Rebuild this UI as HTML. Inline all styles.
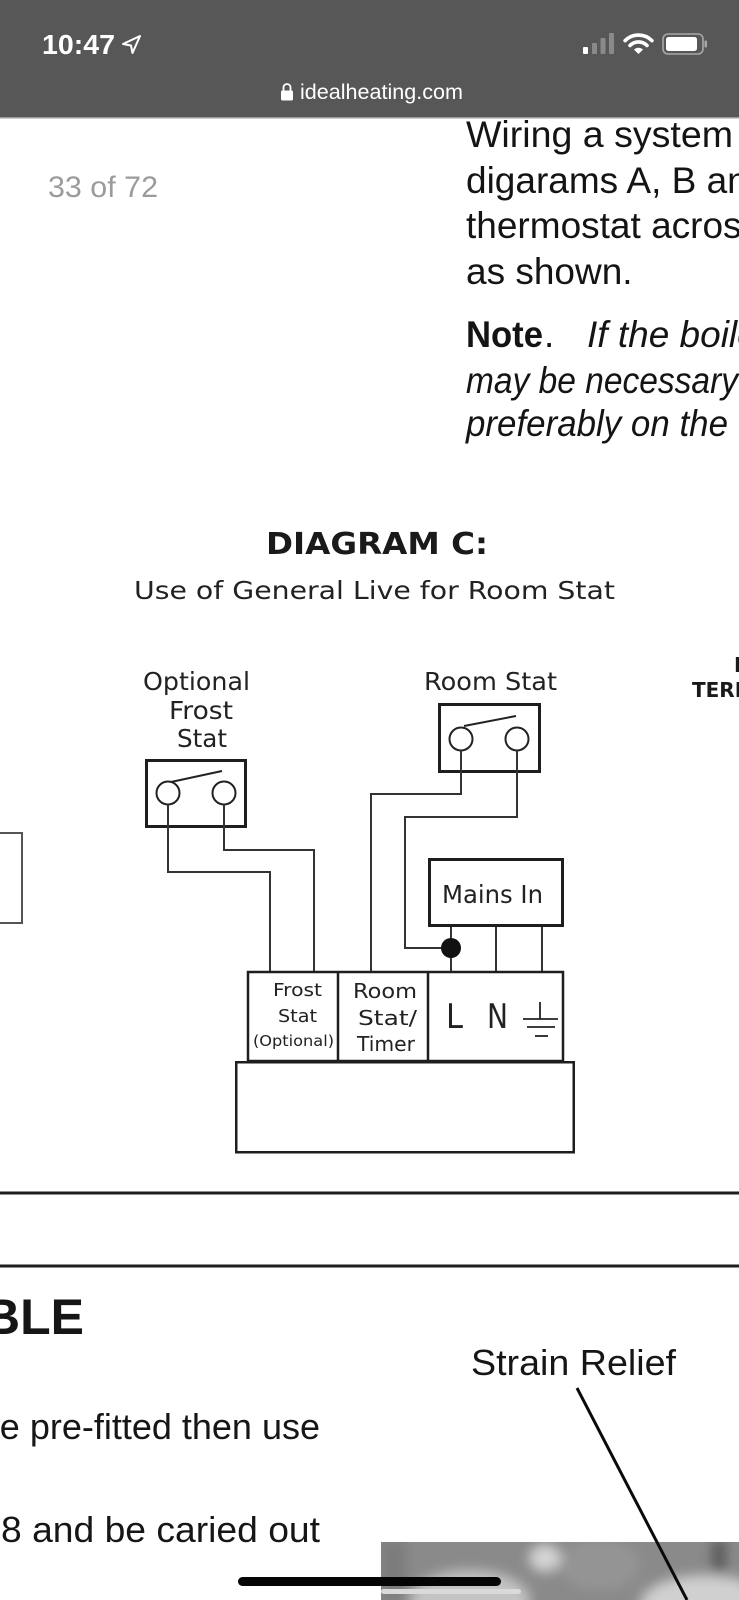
<!DOCTYPE html>
<html>
<head>
<meta charset="utf-8">
<style>
  html, body { margin:0; padding:0; background:#fff; }
  body { width:739px; height:1600px; overflow:hidden; position:relative; }
  svg { position:absolute; left:0; top:0; display:block; }
</style>
</head>
<body>
<svg width="739" height="1600" viewBox="0 0 739 1600" xmlns="http://www.w3.org/2000/svg">
  <defs>
    <clipPath id="photoClip"><rect x="381" y="1542" width="358" height="58"/></clipPath>
    <filter id="blur" x="-20%" y="-20%" width="140%" height="140%"><feGaussianBlur stdDeviation="6"/></filter>
  </defs>

  <!-- Status bar -->
  <rect x="0" y="0" width="739" height="118" fill="#575757"/>
  <rect x="0" y="117" width="739" height="1.5" fill="#9a9a9a"/>
  <text x="42" y="54" font-family="Liberation Sans, sans-serif" font-size="28" font-weight="bold" fill="#fff" textLength="73" lengthAdjust="spacingAndGlyphs">10:47</text>
  <path d="M140 36 L123 44 L131 45.5 L132.5 53 Z" fill="none" stroke="#fff" stroke-width="2" stroke-linejoin="round"/>
  <!-- signal -->
  <rect x="583" y="47" width="5" height="7" rx="1" fill="#fff"/>
  <rect x="592" y="43" width="5" height="11" rx="1" fill="#8a8a8a"/>
  <rect x="600.5" y="38" width="5" height="16" rx="1" fill="#8a8a8a"/>
  <rect x="609" y="33" width="5" height="21" rx="1" fill="#8a8a8a"/>
  <!-- wifi -->
  <path d="M625.1 40.6 A19 19 0 0 1 651.9 40.6" fill="none" stroke="#fff" stroke-width="3.6" stroke-linecap="round"/>
  <path d="M630 45.5 A12 12 0 0 1 647 45.5" fill="none" stroke="#fff" stroke-width="3.6" stroke-linecap="round"/>
  <path d="M638.5 54 L634 49.6 A6.3 6.3 0 0 1 643 49.6 Z" fill="#fff"/>
  <!-- battery -->
  <rect x="663" y="34" width="40" height="20" rx="5" fill="none" stroke="#a8a8a8" stroke-width="1.6"/>
  <rect x="666" y="37" width="31" height="14" rx="2.5" fill="#fff"/>
  <rect x="704.5" y="40.5" width="2.5" height="7" rx="1" fill="#a8a8a8"/>
  <!-- url -->
  <path d="M283.5 91 V87.5 A3.5 3.5 0 0 1 290.5 87.5 V91" fill="none" stroke="#fff" stroke-width="1.8"/>
  <rect x="281" y="90.5" width="12" height="10" rx="1.5" fill="#fff"/>
  <text x="300" y="99" font-family="Liberation Sans, sans-serif" font-size="21" fill="#fff" textLength="163" lengthAdjust="spacingAndGlyphs">idealheating.com</text>

  <!-- page counter -->
  <text x="48" y="197" font-family="Liberation Sans, sans-serif" font-size="30" fill="#9b9b9b" textLength="110" lengthAdjust="spacingAndGlyphs">33 of 72</text>

  <!-- right column text -->
  <g font-family="Liberation Sans, sans-serif" font-size="37" fill="#141414">
    <text x="466" y="147" textLength="267" lengthAdjust="spacingAndGlyphs">Wiring a system</text>
    <text x="466" y="193">digarams A, B and C</text>
    <text x="466" y="238">thermostat across the</text>
    <text x="466" y="284">as shown.</text>
    <text x="466" y="347" font-weight="bold" textLength="77" lengthAdjust="spacingAndGlyphs">Note</text>
    <text x="544" y="347">.</text>
    <text x="587" y="347" font-style="italic">If the boiler is</text>
    <text x="466" y="393" font-style="italic" textLength="272" lengthAdjust="spacingAndGlyphs">may be necessary</text>
    <text x="466" y="436" font-style="italic" textLength="262" lengthAdjust="spacingAndGlyphs">preferably on the</text>
  </g>

  <!-- Diagram title -->
  <text x="266" y="554" font-family="DejaVu Sans, sans-serif" font-size="30" font-weight="bold" fill="#1a1a1a" textLength="222" lengthAdjust="spacingAndGlyphs">DIAGRAM C:</text>
  <text x="134" y="599" font-family="DejaVu Sans, sans-serif" font-size="25" fill="#222" textLength="481" lengthAdjust="spacingAndGlyphs">Use of General Live for Room Stat</text>

  <!-- top right partial -->
  <text x="734" y="672" font-family="DejaVu Sans, sans-serif" font-size="20" font-weight="bold" fill="#1a1a1a">I</text>
  <text x="692" y="697" font-family="DejaVu Sans, sans-serif" font-size="20" font-weight="bold" fill="#1a1a1a">TERMINAL</text>

  <!-- diagram labels -->
  <g font-family="DejaVu Sans, sans-serif" fill="#222">
    <text x="143" y="690" font-size="24.5" textLength="107" lengthAdjust="spacingAndGlyphs">Optional</text>
    <text x="169" y="719" font-size="24.5" textLength="64" lengthAdjust="spacingAndGlyphs">Frost</text>
    <text x="177" y="747" font-size="24.5" textLength="50" lengthAdjust="spacingAndGlyphs">Stat</text>
    <text x="424" y="690" font-size="24.5" textLength="133" lengthAdjust="spacingAndGlyphs">Room Stat</text>
    <text x="442" y="903" font-size="24.5" textLength="101" lengthAdjust="spacingAndGlyphs">Mains In</text>

    <text x="273" y="996" font-size="18" textLength="49" lengthAdjust="spacingAndGlyphs">Frost</text>
    <text x="278" y="1022" font-size="18" textLength="39" lengthAdjust="spacingAndGlyphs">Stat</text>
    <text x="253" y="1046" font-size="15" textLength="81" lengthAdjust="spacingAndGlyphs">(Optional)</text>

    <text x="353" y="998" font-size="20" textLength="64" lengthAdjust="spacingAndGlyphs">Room</text>
    <text x="358" y="1025" font-size="20" textLength="59" lengthAdjust="spacingAndGlyphs">Stat/</text>
    <text x="357" y="1051" font-size="20" textLength="58" lengthAdjust="spacingAndGlyphs">Timer</text>

    <text x="446" y="1028" font-size="34" textLength="17" lengthAdjust="spacingAndGlyphs">L</text>
    <text x="487" y="1028" font-size="34" textLength="21" lengthAdjust="spacingAndGlyphs">N</text>
  </g>

  <!-- left partial box -->
  <path d="M0 833 H22 V923 H0" fill="none" stroke="#555" stroke-width="2"/>

  <!-- Frost stat -->
  <rect x="146.5" y="760.5" width="99" height="66" fill="none" stroke="#1e1e1e" stroke-width="3"/>
  <circle cx="168" cy="793" r="11.5" fill="none" stroke="#222" stroke-width="2"/>
  <circle cx="224" cy="793" r="11.5" fill="none" stroke="#222" stroke-width="2"/>
  <line x1="171" y1="782" x2="222" y2="771" stroke="#222" stroke-width="2"/>

  <!-- Room stat -->
  <rect x="439.5" y="704.5" width="100" height="67" fill="none" stroke="#1e1e1e" stroke-width="3"/>
  <circle cx="461" cy="739" r="11.5" fill="none" stroke="#222" stroke-width="2"/>
  <circle cx="517" cy="739" r="11.5" fill="none" stroke="#222" stroke-width="2"/>
  <line x1="464" y1="726" x2="516" y2="716" stroke="#222" stroke-width="2"/>

  <!-- wires -->
  <g fill="none" stroke="#333" stroke-width="2">
    <path d="M168 804.5 V872 H270 V972"/>
    <path d="M224 804.5 V850 H314 V972"/>
    <path d="M461 750.5 V794 H371 V972"/>
    <path d="M517 750.5 V817 H405 V948 H451"/>
    <path d="M451 927 V972"/>
    <path d="M496 927 V972"/>
    <path d="M542 927 V972"/>
  </g>
  <circle cx="451" cy="948" r="10" fill="#111"/>

  <!-- Mains In -->
  <rect x="429.5" y="859.5" width="133" height="66" fill="none" stroke="#1e1e1e" stroke-width="3"/>

  <!-- Terminal block -->
  <rect x="248" y="972" width="315" height="89" fill="none" stroke="#1e1e1e" stroke-width="2.5"/>
  <line x1="338" y1="972" x2="338" y2="1061" stroke="#1e1e1e" stroke-width="2.5"/>
  <line x1="428" y1="972" x2="428" y2="1061" stroke="#1e1e1e" stroke-width="2.5"/>

  <!-- ground symbol -->
  <g stroke="#222" stroke-width="1.8">
    <line x1="540" y1="1002" x2="540" y2="1019"/>
    <line x1="523" y1="1019" x2="558" y2="1019"/>
    <line x1="527" y1="1027" x2="555" y2="1027"/>
    <line x1="535" y1="1036" x2="548" y2="1036"/>
  </g>

  <!-- base box -->
  <rect x="236.25" y="1062.25" width="337.5" height="90" fill="none" stroke="#1e1e1e" stroke-width="2.5"/>

  <!-- separators -->
  <rect x="0" y="1191.5" width="739" height="3" fill="#1e1e1e"/>
  <rect x="0" y="1264.5" width="739" height="3" fill="#1e1e1e"/>

  <!-- lower content -->
  <text x="84" y="1334" text-anchor="end" font-family="Liberation Sans, sans-serif" font-size="50" font-weight="bold" fill="#161616">CABLE</text>
  <text x="471" y="1375" font-family="Liberation Sans, sans-serif" font-size="36" fill="#161616" textLength="205" lengthAdjust="spacingAndGlyphs">Strain Relief</text>
  <text x="320" y="1439" text-anchor="end" font-family="Liberation Sans, sans-serif" font-size="36" fill="#161616">is to be pre-fitted then use</text>
  <text x="1" y="1542" font-family="Liberation Sans, sans-serif" font-size="36" fill="#161616" textLength="319" lengthAdjust="spacingAndGlyphs">8 and be caried out</text>

  <!-- photo -->
  <g clip-path="url(#photoClip)">
    <rect x="381" y="1542" width="358" height="58" fill="#8a8a8a"/>
    <g filter="url(#blur)">
      <ellipse cx="470" cy="1600" rx="60" ry="30" fill="#c4c4c4"/>
      <ellipse cx="545" cy="1558" rx="16" ry="14" fill="#d4d4d4"/>
      <ellipse cx="600" cy="1565" rx="40" ry="25" fill="#949494"/>
      <ellipse cx="705" cy="1605" rx="65" ry="30" fill="#d0d0d0"/>
      <rect x="712" y="1540" width="14" height="32" fill="#5a5a5a"/>
      <rect x="381" y="1540" width="25" height="60" fill="#7c7c7c"/>
    </g>
  </g>

  <!-- strain relief pointer -->
  <line x1="577" y1="1388" x2="687" y2="1600" stroke="#0a0a0a" stroke-width="3"/>

  <!-- home indicator -->
  <rect x="381" y="1589" width="140" height="5" rx="2.5" fill="#dadada"/>
  <rect x="238" y="1577" width="263" height="9" rx="4.5" fill="#050505"/>
</svg>
</body>
</html>
